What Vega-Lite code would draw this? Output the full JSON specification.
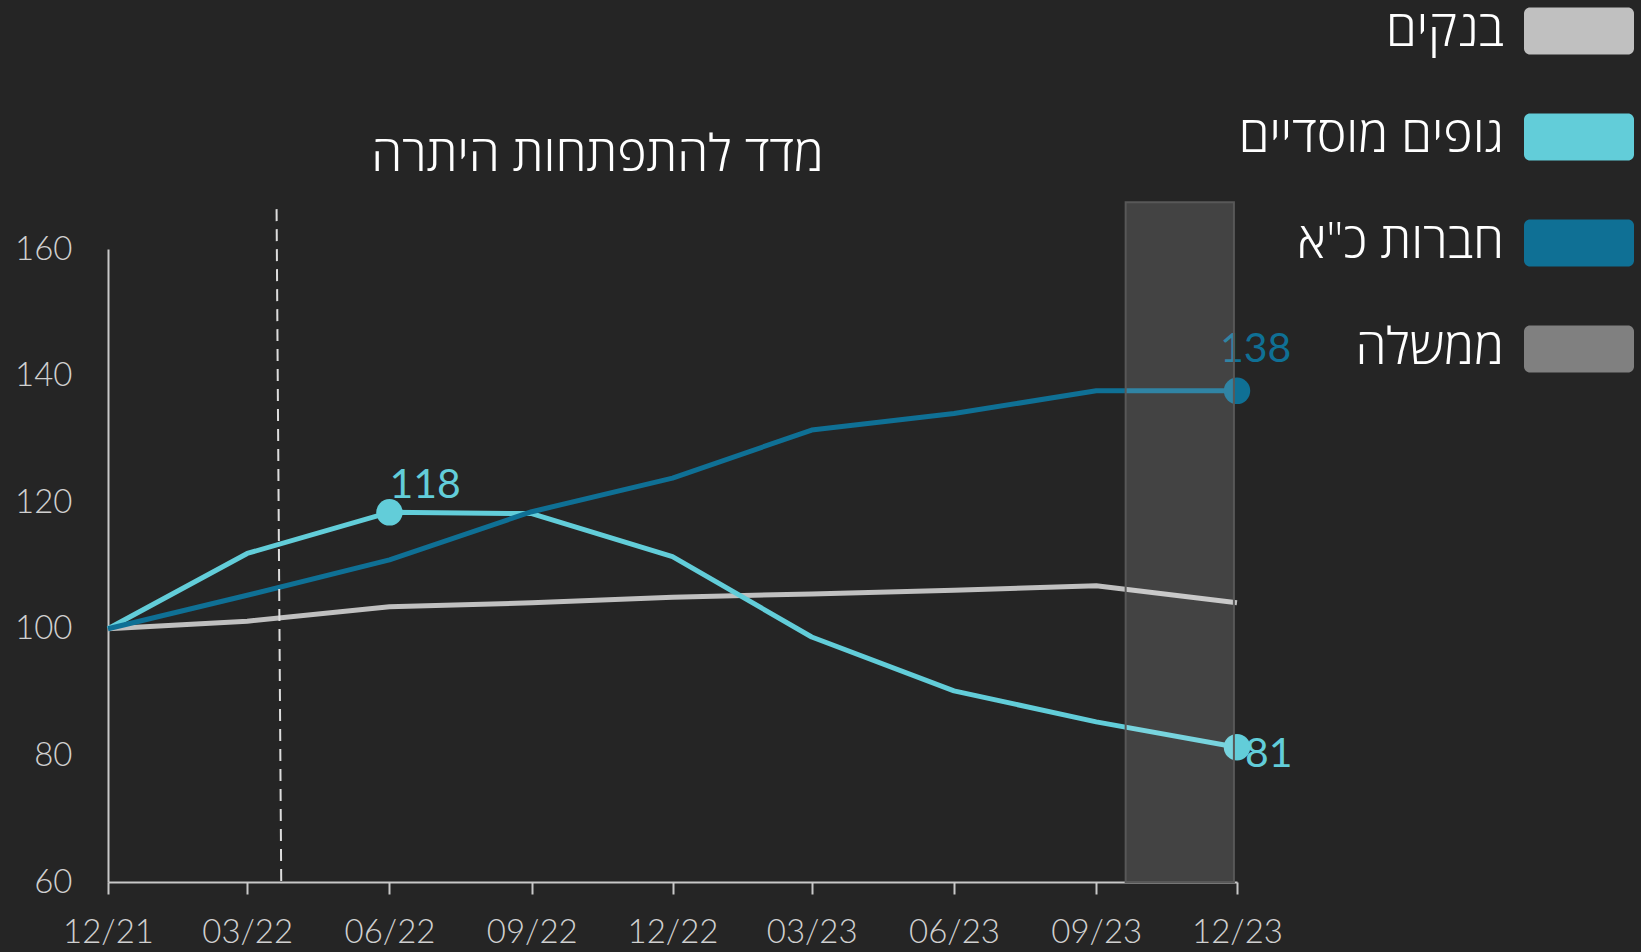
{
  "$schema": "https://vega.github.io/schema/vega-lite/v6.json",
  "width": 1129,
  "height": 633,
  "autosize": {"type": "none"},
  "padding": {"left": 108, "top": 249, "right": 404, "bottom": 70},
  "background": "#252525",
  "config": {"view": {"stroke": null}, "font": "Lato, Open Sans"},
  "title": {
    "text": "מדד להתפתחות היתרה",
    "font": "Open Sans",
    "fontWeight": 300,
    "fontSize": 50,
    "color": "#ffffff",
    "anchor": "middle",
    "frame": "group",
    "dx": -75,
    "dy": 205,
    "offset": 0
  },
  "datasets": {
    "lines": [
      {"date": "2021-12-01", "series": "בנקים", "value": 100},
      {"date": "2022-03-01", "series": "בנקים", "value": 101.2},
      {"date": "2022-06-01", "series": "בנקים", "value": 103.5},
      {"date": "2022-09-01", "series": "בנקים", "value": 104.1},
      {"date": "2022-12-01", "series": "בנקים", "value": 105},
      {"date": "2023-03-01", "series": "בנקים", "value": 105.5},
      {"date": "2023-06-01", "series": "בנקים", "value": 106.1},
      {"date": "2023-09-01", "series": "בנקים", "value": 106.8},
      {"date": "2023-12-01", "series": "בנקים", "value": 104.1},
      {"date": "2021-12-01", "series": "גופים מוסדיים", "value": 100},
      {"date": "2022-03-01", "series": "גופים מוסדיים", "value": 111.9},
      {"date": "2022-06-01", "series": "גופים מוסדיים", "value": 118.4},
      {"date": "2022-09-01", "series": "גופים מוסדיים", "value": 118.2},
      {"date": "2022-12-01", "series": "גופים מוסדיים", "value": 111.4},
      {"date": "2023-03-01", "series": "גופים מוסדיים", "value": 98.7},
      {"date": "2023-06-01", "series": "גופים מוסדיים", "value": 90.2},
      {"date": "2023-09-01", "series": "גופים מוסדיים", "value": 85.3},
      {"date": "2023-12-01", "series": "גופים מוסדיים", "value": 81.3},
      {"date": "2021-12-01", "series": "חברות כ\"א", "value": 100},
      {"date": "2022-03-01", "series": "חברות כ\"א", "value": 105.3},
      {"date": "2022-06-01", "series": "חברות כ\"א", "value": 110.9},
      {"date": "2022-09-01", "series": "חברות כ\"א", "value": 118.5},
      {"date": "2022-12-01", "series": "חברות כ\"א", "value": 123.8},
      {"date": "2023-03-01", "series": "חברות כ\"א", "value": 131.4},
      {"date": "2023-06-01", "series": "חברות כ\"א", "value": 134},
      {"date": "2023-09-01", "series": "חברות כ\"א", "value": 137.6},
      {"date": "2023-12-01", "series": "חברות כ\"א", "value": 137.6}
    ]
  },
  "layer": [
    {
      "data": {"name": "lines"},
      "mark": {"type": "line", "strokeWidth": 5, "strokeCap": "butt", "strokeJoin": "round"},
      "encoding": {
        "x": {
          "field": "date",
          "type": "temporal",
          "scale": {"type": "utc", "domain": [{"year": 2021, "month": 12, "date": 1, "utc": true}, {"year": 2023, "month": 12, "date": 1, "utc": true}]},
          "axis": {
            "title": null,
            "labelExpr": "utcFormat(datum.value, '%m/%y')",
            "values": [
              {"year": 2021, "month": 12, "date": 1, "utc": true},
              {"year": 2022, "month": 3, "date": 1, "utc": true},
              {"year": 2022, "month": 6, "date": 1, "utc": true},
              {"year": 2022, "month": 9, "date": 1, "utc": true},
              {"year": 2022, "month": 12, "date": 1, "utc": true},
              {"year": 2023, "month": 3, "date": 1, "utc": true},
              {"year": 2023, "month": 6, "date": 1, "utc": true},
              {"year": 2023, "month": 9, "date": 1, "utc": true},
              {"year": 2023, "month": 12, "date": 1, "utc": true}
            ],
            "grid": false,
            "domainColor": "#c8c8c8",
            "domainWidth": 2,
            "ticks": true,
            "tickColor": "#c8c8c8",
            "tickWidth": 2,
            "tickSize": 12,
            "labelFontSize": 33,
            "labelFontWeight": 300,
            "labelColor": "#d0d0d0",
            "labelPadding": 22,
            "labelOverlap": false,
            "labelFlush": false
          }
        },
        "y": {
          "field": "value",
          "type": "quantitative",
          "scale": {"domain": [60, 160], "nice": false, "zero": false},
          "axis": {
            "title": null,
            "values": [60, 80, 100, 120, 140, 160],
            "grid": false,
            "ticks": false,
            "domainColor": "#c8c8c8",
            "domainWidth": 2,
            "labelFontSize": 33,
            "labelFontWeight": 300,
            "labelColor": "#d0d0d0",
            "labelPadding": 36,
            "labelBaseline": "middle"
          }
        },
        "color": {
          "field": "series",
          "type": "nominal",
          "scale": {
            "domain": ["בנקים", "גופים מוסדיים", "חברות כ\"א", "ממשלה"],
            "range": ["#c0c0c0", "#62cdd9", "#0f7095", "#808080"]
          },
          "legend": {
            "orient": "none",
            "legendX": 1416,
            "legendY": -273,
            "title": null,
            "padding": 0,
            "symbolType": "M-0.89,-0.427L0.89,-0.427A0.11,0.11,0,0,1,1,-0.317L1,0.317A0.11,0.11,0,0,1,0.89,0.427L-0.89,0.427A0.11,0.11,0,0,1,-1,0.317L-1,-0.317A0.11,0.11,0,0,1,-0.89,-0.427Z",
            "symbolSize": 12100,
            "symbolStrokeWidth": 0,
            "labelFont": "Open Sans",
            "labelFontWeight": 300,
            "labelFontSize": 50,
            "labelColor": "#ffffff",
            "labelAlign": "right",
            "labelBaseline": "middle",
            "labelOffset": -130,
            "labelLimit": 0,
            "rowPadding": 26,
            "encode": {
              "symbols": {"update": {"fill": {"scale": "color", "field": "value"}, "stroke": {"value": "transparent"}, "opacity": {"value": 1}}}
            }
          }
        }
      }
    },
    {
      "data": {"values": [{"top_date": "2022-03-20", "bottom_date": "2022-03-23", "top": 166.3, "bottom": 60}]},
      "mark": {"type": "rule", "color": "#dddddd", "strokeWidth": 2, "strokeDash": [12, 8], "clip": false},
      "encoding": {
        "x": {"field": "top_date", "type": "temporal"},
        "x2": {"field": "bottom_date"},
        "y": {"field": "top", "type": "quantitative"},
        "y2": {"field": "bottom"}
      }
    },
    {
      "data": {"name": "lines"},
      "transform": [
        {"filter": "(datum.series == 'גופים מוסדיים' && ((utcyear(datum.date) == 2022 && utcmonth(datum.date) == 5) || (utcyear(datum.date) == 2023 && utcmonth(datum.date) == 11))) || (datum.series == 'חברות כ\"א' && utcyear(datum.date) == 2023 && utcmonth(datum.date) == 11)"}
      ],
      "mark": {"type": "point", "filled": true, "size": 700, "opacity": 1, "shape": "circle"},
      "encoding": {
        "x": {"field": "date", "type": "temporal"},
        "y": {"field": "value", "type": "quantitative"},
        "color": {"field": "series", "type": "nominal"}
      }
    },
    {
      "data": {"name": "lines"},
      "transform": [{"filter": "datum.series == 'גופים מוסדיים' && utcyear(datum.date) == 2022 && utcmonth(datum.date) == 5"}],
      "mark": {"type": "text", "align": "left", "baseline": "alphabetic", "dx": 0, "dy": -14, "fontSize": 41, "font": "Lato", "fontWeight": 400, "color": "#62cdd9"},
      "encoding": {
        "x": {"field": "date", "type": "temporal"},
        "y": {"field": "value", "type": "quantitative"},
        "text": {"field": "value", "type": "quantitative", "format": ".0f"}
      }
    },
    {
      "data": {"name": "lines"},
      "transform": [{"filter": "datum.series == 'חברות כ\"א' && utcyear(datum.date) == 2023 && utcmonth(datum.date) == 11"}],
      "mark": {"type": "text", "align": "left", "baseline": "alphabetic", "dx": -17, "dy": -29, "fontSize": 41, "font": "Lato", "fontWeight": 400, "color": "#0f7095"},
      "encoding": {
        "x": {"field": "date", "type": "temporal"},
        "y": {"field": "value", "type": "quantitative"},
        "text": {"field": "value", "type": "quantitative", "format": ".0f"}
      }
    },
    {
      "data": {"name": "lines"},
      "transform": [{"filter": "datum.series == 'גופים מוסדיים' && utcyear(datum.date) == 2023 && utcmonth(datum.date) == 11"}],
      "mark": {"type": "text", "align": "left", "baseline": "alphabetic", "dx": 8, "dy": 20, "fontSize": 41, "font": "Lato", "fontWeight": 400, "color": "#62cdd9"},
      "encoding": {
        "x": {"field": "date", "type": "temporal"},
        "y": {"field": "value", "type": "quantitative"},
        "text": {"field": "value", "type": "quantitative", "format": ".0f"}
      }
    },
    {
      "data": {"values": [{"start": "2023-09-20", "end": "2023-11-29", "low": 60, "high": 167.4}]},
      "mark": {"type": "rect", "fill": "#ffffff", "fillOpacity": 0.14, "stroke": "#585858", "strokeWidth": 2, "clip": false},
      "encoding": {
        "x": {"field": "start", "type": "temporal"},
        "x2": {"field": "end"},
        "y": {"field": "low", "type": "quantitative"},
        "y2": {"field": "high"}
      }
    }
  ]
}
